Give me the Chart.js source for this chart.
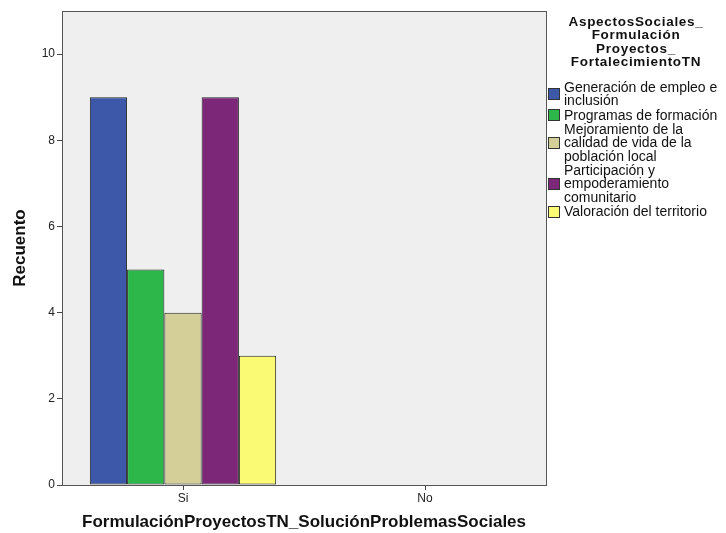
<!DOCTYPE html>
<html lang="es">
<head>
<meta charset="UTF-8">
<title>Recuento</title>
<script src="https://cdn.jsdelivr.net/npm/chart.js"></script>
<style>
  body { margin: 0; background: #fff; }
  .wrap { position: relative; width: 726px; height: 533px; overflow: hidden; font-family: "Liberation Sans", Arial, sans-serif; }
  #grafico { position: absolute; left: 0; top: 0; }
  .leyenda-titulo { position: absolute; left: 551px; top: 15px; width: 170px; text-align: center; font-weight: bold; font-size: 13.5px; line-height: 13.4px; letter-spacing: 0.7px; color: #111; white-space: pre; }
  .leyenda { position: absolute; left: 548px; top: 81px; width: 200px; }
  .item { display: flex; align-items: center; margin-bottom: 0.8px; }
  .cuadro { width: 10px; height: 10px; border: 1px solid #333; margin-right: 4px; flex: none; }
  .texto { font-size: 14px; line-height: 13.4px; color: #111; white-space: pre; }
</style>
</head>
<body>
<div class="wrap">
  <canvas id="grafico" width="726" height="533"></canvas>
  <div class="leyenda-titulo" id="leyendaTitulo"></div>
  <div class="leyenda" id="leyenda"></div>
</div>

<script>
  // datos
  const categories = ['Si', 'No'];
  const seriesNames = [
    'Generación de empleo e\ninclusión',
    'Programas de formación',
    'Mejoramiento de la\ncalidad de vida de la\npoblación local',
    'Participación y\nempoderamiento\ncomunitario',
    'Valoración del territorio'
  ];
  const countsSi = [9, 5, 4, 9, 3];
  const countsNo = [0, 0, 0, 0, 0];
  const yTicks = [0, 2, 4, 6, 8, 10];

  const legendTitle = 'AspectosSociales_\nFormulación\nProyectos_\nFortalecimientoTN';
  const xTitle = 'FormulaciónProyectosTN_SoluciónProblemasSociales';
  const yTitle = 'Recuento';
  const colores = ['#3d57a9', '#2db74a', '#d4cf98', '#7c2777', '#fafa74'];

  var datasets = [];
  for (var i = 0; i < seriesNames.length; i++) {
    datasets.push({
      label: seriesNames[i].replace(/\n/g, ' '),
      data: [countsSi[i], countsNo[i]],
      backgroundColor: colores[i],
      borderColor: '#222',
      borderWidth: function (ctx) { return ctx.raw === 0 ? 0 : 1 },
      borderSkipped: false
    })
  }

  // fondo gris y marco del area
  const marco = {
    id: 'marco',
    beforeDraw(chart) {
      const a = chart.chartArea
      const ctx = chart.ctx
      ctx.save()
      ctx.fillStyle = '#efefef'
      ctx.fillRect(a.left, a.top, a.right - a.left, a.bottom - a.top)
      ctx.restore()
    },
    afterDraw(chart) {
      const a = chart.chartArea
      const ctx = chart.ctx
      ctx.save()
      ctx.strokeStyle = '#555'
      ctx.lineWidth = 1
      ctx.strokeRect(Math.round(a.left) + 0.5, Math.round(a.top) + 0.5, Math.round(a.right - a.left), Math.round(a.bottom - a.top))
      ctx.restore()
    }
  }

  const config = {
    type: 'bar',
    data: { labels: categories, datasets: datasets },
    plugins: [marco],
    options: {
      responsive: false,
      animation: false,
      layout: { padding: { top: 11, right: 726 - 546, left: 0, bottom: 0 } },
      plugins: { legend: { display: false }, tooltip: { enabled: false } },
      datasets: { bar: { categoryPercentage: 0.77, barPercentage: 1 } },
      scales: {
        x: {
          grid: { display: true, offset: false, drawOnChartArea: false, drawTicks: true, tickLength: 5, color: '#444' },
          border: { display: true, color: '#555' },
          ticks: { color: '#222', font: { family: 'Liberation Sans', size: 12 }, padding: 1 },
          title: { display: true, text: xTitle, color: '#111', font: { family: 'Liberation Sans', size: 17, weight: 'bold' }, padding: { top: 0, bottom: 0 } },
          afterFit: function (scale) { scale.height = 48 }
        },
        y: {
          min: 0,
          max: 11,
          afterBuildTicks: function (scale) { scale.ticks = yTicks.map(function (v) { return { value: v } }) },
          grid: { display: true, drawOnChartArea: false, drawTicks: true, tickLength: 5, color: '#444' },
          border: { display: true, color: '#555' },
          ticks: { color: '#222', font: { family: 'Liberation Sans', size: 12 }, padding: 2 },
          title: { display: true, text: yTitle, color: '#111', font: { family: 'Liberation Sans', size: 17, weight: 'bold' }, padding: { top: 10, bottom: 0 } },
          afterFit: function (scale) { scale.width = 62 }
        }
      }
    }
  }

  let myChart = new Chart(document.getElementById('grafico'), config)

  // leyenda en html
  document.getElementById('leyendaTitulo').textContent = legendTitle
  const leyenda = document.getElementById('leyenda')
  for (var j = 0; j < seriesNames.length; j++) {
    const item = document.createElement('div')
    item.className = 'item'
    const cuadro = document.createElement('div')
    cuadro.className = 'cuadro'
    cuadro.style.background = colores[j]
    const texto = document.createElement('div')
    texto.className = 'texto'
    texto.textContent = seriesNames[j]
    item.appendChild(cuadro)
    item.appendChild(texto)
    leyenda.appendChild(item)
  }
</script>
</body>
</html>
